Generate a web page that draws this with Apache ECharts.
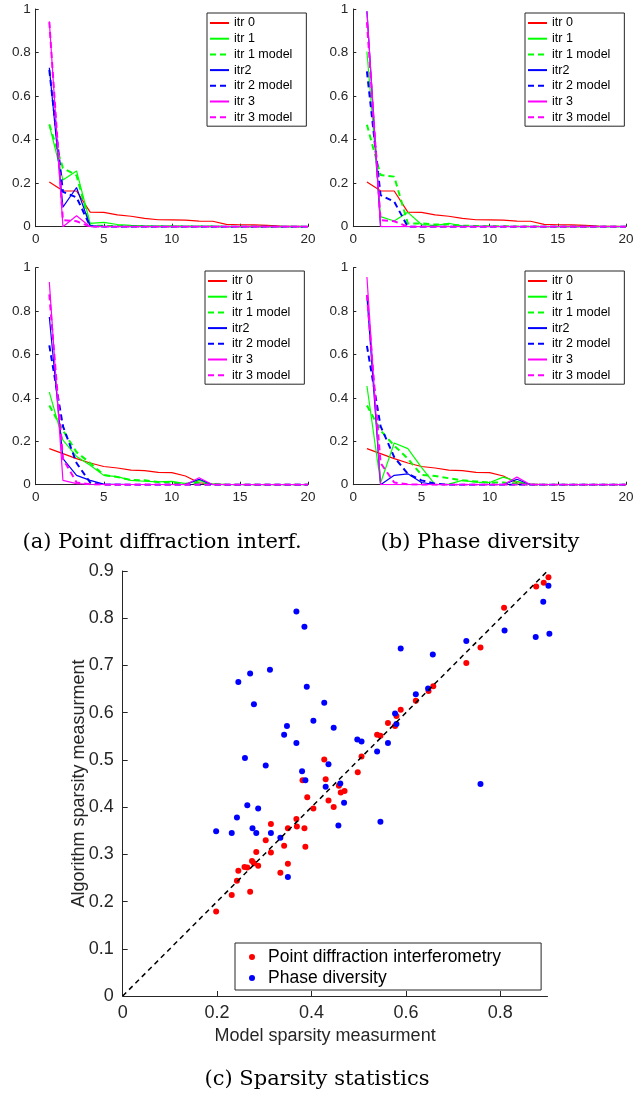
<!DOCTYPE html>
<html>
<head>
<meta charset="utf-8">
<script src="https://cdn.jsdelivr.net/npm/echarts@6/dist/echarts.min.js"></script>
<style>
html,body{margin:0;padding:0;background:#fff;}
#chart{width:633px;height:1097px;}
</style>
</head>
<body>
<div id="chart"></div>
<script>
// ---------- DATA ----------
const steps = [1,2,3,4,5,6,7,8,9,10,11,12,13,14,15,16,17,18,19,20];
const seriesNames = ['itr 0','itr 1','itr 1 model','itr2','itr 2 model','itr 3','itr 3 model'];

// (a) Point diffraction interf., top row
const a_itr0   = [0.205,0.165,0.164,0.067,0.066,0.054,0.048,0.038,0.032,0.031,0.030,0.026,0.025,0.011,0.009,0.008,0.006,0.003,0.002,0.001];
const a_itr1   = [0.468,0.215,0.256,0.015,0.020,0.010,0.006,0.004,0.003,0.003,0.002,0.002,0.002,0.001,0.001,0.001,0.001,0,0,0];
const a_itr1m  = [0.470,0.270,0.235,0.005,0.004,0.003,0.002,0.002,0.001,0.001,0.001,0.001,0.001,0,0,0,0,0,0,0];
const a_itr2   = [0.730,0.090,0.180,0.003,0,0,0,0,0,0,0,0,0,0,0,0,0,0,0,0];
const a_itr2m  = [0.720,0.160,0.135,0.002,0,0,0,0,0,0,0,0,0,0,0,0,0,0,0,0];
const a_itr3   = [0.943,0,0.050,0,0,0,0,0,0,0,0,0,0,0,0,0,0,0,0,0];
const a_itr3m  = [0.940,0.030,0.025,0,0,0,0,0,0,0,0,0,0,0,0,0,0,0,0,0];

// (b) Phase diversity, top row
const b_itr0   = [0.205,0.165,0.164,0.067,0.066,0.054,0.048,0.038,0.032,0.031,0.030,0.026,0.025,0.011,0.009,0.008,0.006,0.003,0.002,0.001];
const b_itr1   = [0.805,0.046,0.026,0.066,0.010,0.005,0.016,0.003,0.002,0.002,0.001,0.001,0.001,0,0,0,0,0,0,0];
const b_itr1m  = [0.468,0.237,0.230,0.015,0.015,0.010,0.010,0.005,0.003,0.002,0.002,0.001,0.001,0,0,0,0,0,0,0];
const b_itr2   = [0.990,0,0,0,0,0,0,0,0,0,0,0,0,0,0,0,0,0,0,0];
const b_itr2m  = [0.713,0.145,0.115,0,0,0,0,0,0,0,0,0,0,0,0,0,0,0,0,0];
const b_itr3   = [0.990,0,0,0,0,0,0,0,0,0,0,0,0,0,0,0,0,0,0,0];
const b_itr3m  = [0.940,0.030,0.025,0,0,0,0,0,0,0,0,0,0,0,0,0,0,0,0,0];

// (a) Point diffraction interf., bottom row
const c_itr0   = [0.166,0.143,0.120,0.100,0.084,0.077,0.067,0.065,0.057,0.056,0.040,0.009,0.003,0.001,0.001,0,0,0,0,0];
const c_itr1   = [0.427,0.205,0.130,0.090,0.043,0.037,0.020,0.016,0.013,0.015,0.005,0.020,0.003,0,0,0,0,0,0,0];
const c_itr1m  = [0.365,0.250,0.150,0.100,0.045,0.035,0.022,0.020,0.012,0.010,0.003,0.010,0.002,0,0,0,0,0,0,0];
const c_itr2   = [0.773,0.120,0.043,0.020,0.003,0.002,0.001,0.001,0.001,0.001,0.001,0.025,0,0,0,0,0,0,0,0];
const c_itr2m  = [0.642,0.270,0.100,0.010,0,0,0,0,0,0,0,0,0,0,0,0,0,0,0,0];
const c_itr3   = [0.934,0.020,0.005,0.002,0.001,0,0,0,0,0,0,0.032,0,0,0,0,0,0,0,0];
const c_itr3m  = [0.877,0.120,0.010,0.002,0,0,0,0,0,0,0,0,0,0,0,0,0,0,0,0];

// (b) Phase diversity, bottom row
const d_itr0   = [0.166,0.143,0.120,0.100,0.084,0.077,0.067,0.065,0.057,0.056,0.040,0.009,0.003,0.001,0.001,0,0,0,0,0];
const d_itr1   = [0.455,0.008,0.192,0.166,0.080,0,0.003,0.020,0.012,0.010,0.035,0.015,0,0,0,0,0,0,0,0];
const d_itr1m  = [0.365,0.250,0.180,0.120,0.045,0.040,0.030,0.020,0.015,0.010,0.010,0.005,0,0,0,0,0,0,0,0];
const d_itr2   = [0.870,0,0.043,0.050,0.010,0,0,0,0,0,0,0.025,0,0,0,0,0,0,0,0];
const d_itr2m  = [0.640,0.270,0.127,0.050,0.020,0.005,0,0,0,0,0,0,0,0,0,0,0,0,0,0];
const d_itr3   = [0.957,0,0,0,0,0,0,0,0,0,0,0.035,0,0,0,0,0,0,0,0];
const d_itr3m  = [0.875,0.100,0.010,0.002,0,0,0,0,0,0,0,0,0,0,0,0,0,0,0,0];

// (c) Sparsity statistics: [model, algorithm]
const pdiPoints = [[0.198,0.179],[0.231,0.214],[0.270,0.221],[0.242,0.244],[0.245,0.265],[0.258,0.273],[0.264,0.272],[0.274,0.286],[0.278,0.281],[0.287,0.276],[0.283,0.305],[0.303,0.330],[0.314,0.304],[0.314,0.364],[0.334,0.261],[0.342,0.318],[0.350,0.280],[0.350,0.355],[0.368,0.375],[0.369,0.359],[0.385,0.355],[0.387,0.316],[0.391,0.421],[0.404,0.397],[0.381,0.457],[0.427,0.501],[0.430,0.459],[0.436,0.414],[0.447,0.400],[0.458,0.445],[0.462,0.431],[0.470,0.434],[0.498,0.474],[0.506,0.507],[0.539,0.553],[0.546,0.551],[0.562,0.578],[0.577,0.572],[0.580,0.593],[0.589,0.606],[0.621,0.625],[0.648,0.646],[0.658,0.656],[0.728,0.705],[0.758,0.738],[0.808,0.822],[0.876,0.867],[0.892,0.875],[0.902,0.887]];
const pdPoints = [[0.198,0.349],[0.231,0.345],[0.242,0.378],[0.264,0.404],[0.287,0.397],[0.275,0.355],[0.283,0.345],[0.314,0.345],[0.334,0.335],[0.350,0.252],[0.430,0.443],[0.461,0.450],[0.469,0.409],[0.457,0.361],[0.387,0.457],[0.380,0.476],[0.436,0.491],[0.303,0.488],[0.259,0.504],[0.368,0.536],[0.342,0.553],[0.348,0.572],[0.447,0.568],[0.404,0.583],[0.278,0.618],[0.427,0.621],[0.390,0.655],[0.245,0.665],[0.270,0.683],[0.312,0.691],[0.368,0.814],[0.385,0.782],[0.589,0.736],[0.657,0.723],[0.728,0.752],[0.809,0.774],[0.875,0.760],[0.904,0.767],[0.891,0.835],[0.902,0.869],[0.621,0.639],[0.647,0.651],[0.577,0.598],[0.580,0.576],[0.562,0.536],[0.539,0.518],[0.497,0.543],[0.506,0.539],[0.758,0.449],[0.546,0.369]];
const diagonal = [[0,0],[0.9,0.9]];
const scatterXTicks = [0,0.2,0.4,0.6,0.8];
const scatterYTicks = [0,0.1,0.2,0.3,0.4,0.5,0.6,0.7,0.8,0.9];
const scatterLegend = ['Point diffraction interferometry','Phase diversity'];
const captions = ['(a) Point diffraction interf.','(b) Phase diversity','(c) Sparsity statistics'];

// ---------- CHART ----------
const FONT = 'Liberation Sans, Arial, sans-serif';
const SERIF = 'DejaVu Serif, Liberation Serif, serif';
const AX = '#262626';
const panels = [
  {data:[a_itr0,a_itr1,a_itr1m,a_itr2,a_itr2m,a_itr3,a_itr3m], grid:{left:35.7,top:9,width:272.3,height:217.7}, legend:{left:207,top:13}},
  {data:[b_itr0,b_itr1,b_itr1m,b_itr2,b_itr2m,b_itr3,b_itr3m], grid:{left:353.3,top:9,width:272.7,height:217.7}, legend:{left:525,top:13}},
  {data:[c_itr0,c_itr1,c_itr1m,c_itr2,c_itr2m,c_itr3,c_itr3m], grid:{left:35.7,top:267.7,width:272.3,height:217}, legend:{left:205,top:271}},
  {data:[d_itr0,d_itr1,d_itr1m,d_itr2,d_itr2m,d_itr3,d_itr3m], grid:{left:353.3,top:267.7,width:272.7,height:217}, legend:{left:525,top:271}}
];
const styles = [
  {color:'#ff0000', type:'solid', width:1.2},
  {color:'#00ff00', type:'solid', width:1.2},
  {color:'#00ff00', type:[6,4], width:2},
  {color:'#0000ff', type:'solid', width:1.2},
  {color:'#0000ff', type:[6,4], width:2},
  {color:'#ff00ff', type:'solid', width:1.2},
  {color:'#ff00ff', type:[6,4], width:2}
];

const grids = [], xAxes = [], yAxes = [], series = [], legends = [];
panels.forEach((p, pi) => {
  grids.push(Object.assign({containLabel:false, outerBoundsMode:'none'}, p.grid));
  xAxes.push({gridIndex:pi, type:'value', min:0, max:20, interval:5,
    axisLine:{show:true, onZero:false, lineStyle:{color:AX, width:1}},
    axisTick:{show:true, inside:true, length:3, lineStyle:{color:AX}},
    axisLabel:{color:AX, fontSize:13.5, fontFamily:FONT, margin:6},
    splitLine:{show:false}});
  yAxes.push({gridIndex:pi, type:'value', min:0, max:1, interval:0.2,
    axisLine:{show:true, onZero:false, lineStyle:{color:AX, width:1}},
    axisTick:{show:true, inside:true, length:3, lineStyle:{color:AX}},
    axisLabel:{color:AX, fontSize:13.5, fontFamily:FONT, margin:5},
    splitLine:{show:false}});
  p.data.forEach((ys, si) => {
    const st = styles[si];
    series.push({type:'line', name:seriesNames[si], xAxisIndex:pi, yAxisIndex:pi,
      data: steps.map((x, i) => [x, ys[i]]),
      symbol:'none', showSymbol:false, animation:false, silent:true,
      lineStyle:{color:st.color, type:st.type, width:st.width},
      itemStyle:{color:st.color}});
  });
  legends.push({orient:'vertical', left:p.legend.left, top:p.legend.top, data:seriesNames,
    itemWidth:19, itemHeight:2, itemGap:1.7, padding:[3,14,2,2],
    itemStyle:{opacity:0},
    borderColor:AX, borderWidth:1, borderRadius:0, backgroundColor:'#fff',
    selectedMode:false,
    textStyle:{fontSize:12.5, color:'#000', fontFamily:FONT, lineHeight:14}});
});

// scatter grid
grids.push({left:122.7, top:571, width:424.8, height:425, containLabel:false, outerBoundsMode:'none'});
xAxes.push({gridIndex:4, type:'value', min:0, max:0.9,
  name:'Model sparsity measurment', nameLocation:'middle', nameGap:31, nameMoveOverlap:false,
  nameTextStyle:{fontSize:18, color:AX, fontFamily:FONT, padding:[0,20,0,0]},
  axisLine:{show:true, onZero:false, lineStyle:{color:AX, width:1}},
  axisTick:{show:true, inside:true, length:5, lineStyle:{color:AX}, customValues:scatterXTicks},
  axisLabel:{color:AX, fontSize:18, fontFamily:FONT, margin:8, customValues:scatterXTicks},
  splitLine:{show:false}});
yAxes.push({gridIndex:4, type:'value', min:0, max:0.9, interval:0.1,
  name:'Algorithm sparsity measurment', nameLocation:'middle', nameGap:35, nameRotate:90, nameMoveOverlap:false,
  nameTextStyle:{fontSize:18, color:AX, fontFamily:FONT},
  axisLine:{show:true, onZero:false, lineStyle:{color:AX, width:1}},
  axisTick:{show:true, inside:true, length:5, lineStyle:{color:AX}, customValues:scatterYTicks},
  axisLabel:{color:AX, fontSize:18, fontFamily:FONT, margin:9, customValues:scatterYTicks},
  splitLine:{show:false}});
series.push({type:'line', name:'diag', xAxisIndex:4, yAxisIndex:4, data:diagonal,
  symbol:'none', silent:true, animation:false,
  lineStyle:{color:'#000', type:[5,4], width:1.5}});
series.push({type:'scatter', name:scatterLegend[0], xAxisIndex:4, yAxisIndex:4, data:pdiPoints,
  symbol:'circle', symbolSize:6, clip:false, animation:false, silent:true,
  itemStyle:{color:'#ff0000', opacity:1}});
series.push({type:'scatter', name:scatterLegend[1], xAxisIndex:4, yAxisIndex:4, data:pdPoints,
  symbol:'circle', symbolSize:6, clip:false, animation:false, silent:true,
  itemStyle:{color:'#0000ff', opacity:1}});
legends.push({orient:'vertical', left:235, top:943, data:scatterLegend,
  itemWidth:6, itemHeight:6, itemGap:1, padding:[4,40,2,14],
  borderColor:AX, borderWidth:1, backgroundColor:'#fff', selectedMode:false,
  textStyle:{fontSize:17.5, color:'#000', fontFamily:FONT, lineHeight:20, padding:[0,0,0,8]}});

const chart = echarts.init(document.getElementById('chart'), null, {renderer:'canvas'});
chart.setOption({
  animation:false,
  backgroundColor:'#fff',
  grid:grids, xAxis:xAxes, yAxis:yAxes, series:series, legend:legends,
  graphic:[
    {type:'text', x:162, y:543, style:{text:captions[0], font:'21px ' + SERIF, fill:'#000', textAlign:'center', textVerticalAlign:'middle'}},
    {type:'text', x:480, y:543, style:{text:captions[1], font:'21px ' + SERIF, fill:'#000', textAlign:'center', textVerticalAlign:'middle'}},
    {type:'text', x:317, y:1080, style:{text:captions[2], font:'21px ' + SERIF, fill:'#000', textAlign:'center', textVerticalAlign:'middle'}}
  ]
});
</script>
</body>
</html>
